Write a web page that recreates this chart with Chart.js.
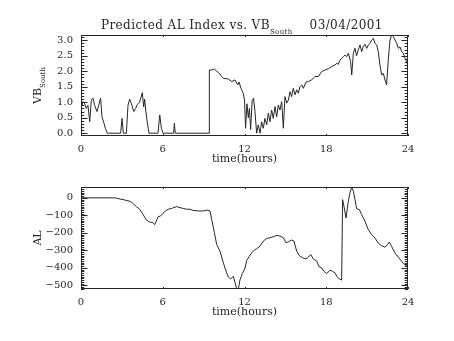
<!DOCTYPE html>
<html lang="en">

<head>
  <meta charset="UTF-8">
  <title>Predicted AL Index vs. VB South</title>
  <script src="https://cdn.jsdelivr.net/npm/chart.js@4.4.1/dist/chart.umd.min.js"></script>
  <style>
    body { margin: 0; background: #fff; }
    #wrap { position: relative; width: 454px; height: 341px; background: #fff; }
    #wrap canvas { position: absolute; left: 0; }
  </style>
</head>

<body>
  <div id="wrap">
    <canvas id="vbChart" width="454" height="170" style="top:0"></canvas>
    <canvas id="alChart" width="454" height="171" style="top:170px"></canvas>
  </div>

<script type="text/javascript">

  // VB south, 03/04/2001 (hours, value)
  var vbHours = [0.02, 0.15, 0.27, 0.39, 0.51, 0.64, 0.76, 0.88, 1.00, 1.17, 1.30, 1.44, 1.54, 1.69, 1.79, 1.93,
    2.10, 2.91, 3.01, 3.11, 3.33, 3.45, 3.57, 3.69, 3.87, 4.01, 4.14, 4.30, 4.50, 4.60, 4.67, 4.75, 4.84, 4.99,
    5.65, 5.78, 5.90, 6.02, 6.80, 6.85, 6.92, 9.40, 9.42, 9.59, 9.79, 9.96, 10.08, 10.45, 10.81, 11.06, 11.30,
    11.50, 11.60, 11.74, 11.91, 12.00, 12.08, 12.18, 12.28, 12.36, 12.45, 12.56, 12.66, 12.77, 12.89, 13.01,
    13.14, 13.26, 13.38, 13.50, 13.63, 13.75, 13.87, 13.99, 14.11, 14.24, 14.36, 14.48, 14.60, 14.73, 14.85,
    14.97, 15.10, 15.22, 15.34, 15.46, 15.58, 15.71, 15.83, 15.95, 16.07, 16.20, 16.32, 16.51, 16.68, 16.93,
    17.17, 17.42, 17.66, 17.91, 18.15, 18.40, 18.64, 18.77, 18.88, 19.01, 19.13, 19.25, 19.37, 19.50, 19.62,
    19.79, 19.87, 19.99, 20.11, 20.23, 20.35, 20.48, 20.60, 20.72, 20.84, 20.97, 21.09, 21.21, 21.33, 21.46,
    21.58, 21.70, 21.82, 21.94, 22.07, 22.19, 22.31, 22.43, 22.56, 22.68, 22.80, 22.92, 23.05, 23.17, 23.29,
    23.41, 23.54, 23.66, 23.78, 23.90, 24.00];
  var vbSouth = [0.81, 1.02, 0.95, 0.80, 0.90, 0.37, 1.07, 1.13, 0.90, 0.70, 0.90, 1.13, 0.53, 0.32, 0.16, 0.00,
    0.00, 0.00, 0.48, 0.00, 0.00, 0.90, 1.10, 0.97, 0.70, 0.80, 0.93, 1.00, 1.31, 0.85, 1.10, 0.75, 0.43, 0.00,
    0.00, 0.59, 0.16, 0.00, 0.00, 0.32, 0.00, 0.00, 2.04, 2.04, 2.07, 2.00, 1.96, 1.77, 1.75, 1.67, 1.72,
    1.56, 1.65, 1.45, 1.29, 1.07, 0.16, 0.95, 0.50, 0.80, 0.12, 1.05, 1.13, 0.70, 0.00, 0.27,
    0.00, 0.37, 0.16, 0.48, 0.27, 0.65, 0.37, 0.75, 0.48, 0.86, 0.53, 0.91, 0.75, 1.02, 0.16,
    1.18, 0.97, 1.07, 1.34, 1.18, 1.45, 1.24, 1.40, 1.29, 1.50, 1.56, 1.45, 1.65, 1.67, 1.72,
    1.83, 1.83, 1.99, 2.04, 2.08, 2.15, 2.20, 2.26, 2.22, 2.36, 2.42, 2.47, 2.52, 2.47, 2.58,
    2.31, 1.88, 2.58, 2.74, 2.50, 2.69, 2.85, 2.63, 2.80, 2.87, 2.74, 2.85, 2.90, 3.01, 3.06,
    2.90, 2.85, 2.63, 2.20, 1.88, 1.93, 1.72, 1.56, 2.42, 3.01, 3.17, 3.12, 3.01, 2.90, 2.74,
    2.79, 2.63, 2.58, 2.42, 2.31, 2.15];

  // predicted AL index (hours, nT)
  var alHours = [0.00, 2.52, 2.72, 3.20, 3.64, 3.82, 4.06, 4.30, 4.55, 4.79, 5.04, 5.28, 5.41, 5.53, 5.65, 5.85,
    6.02, 6.19, 6.41, 6.66, 7.02, 7.27, 7.51, 7.76, 8.00, 8.20, 8.61, 8.98, 9.22, 9.47, 9.59, 9.79, 9.96,
    10.20, 10.45, 10.69, 10.81, 10.98, 11.18, 11.30, 11.43, 11.55, 11.67, 11.84, 12.04, 12.16, 12.33, 12.53,
    12.72, 12.89, 13.14, 13.38, 13.63, 13.87, 14.11, 14.36, 14.60, 14.85, 15.05, 15.22, 15.46, 15.63, 15.83,
    16.02, 16.27, 16.51, 16.68, 16.86, 17.05, 17.30, 17.49, 17.66, 17.83, 18.03, 18.28, 18.47, 18.64, 18.77,
    18.89, 19.13, 19.20, 19.30, 19.45, 19.62, 19.74, 19.87, 19.99, 20.11, 20.23, 20.43, 20.60, 20.84, 21.09,
    21.33, 21.58, 21.82, 22.07, 22.31, 22.48, 22.63, 22.80, 23.05, 23.29, 23.54, 23.78, 24.00];
  var alIndex = [0, 0, -4, -12, -21, -33, -50, -65, -94, -126, -138, -142, -153, -132, -109, -103,
    -88, -75, -65, -60, -50, -56, -61, -65, -65, -71, -75, -75, -70, -75, -123, -199, -267,
    -305, -372, -429, -452, -464, -448, -483, -521, -521, -468, -433, -401, -357, -337, -314,
    -299, -291, -276, -247, -232, -228, -222, -215, -218, -228, -257, -251, -241, -247, -305,
    -330, -343, -349, -340, -324, -349, -362, -395, -400, -420, -433, -414, -420, -429, -448,
    -460, -470, -10, -48, -115, -20, 29, 62, 38, -10, -63, -67, -96, -134, -182,
    -211, -230, -259, -274, -282, -268, -253, -278, -316, -339, -364, -383, -393];

  var hourTicks = [0, 6, 12, 18, 24];
  var vbTicks = [0, 0.5, 1, 1.5, 2, 2.5, 3];
  var alTicks = [0, -100, -200, -300, -400, -500];

  var ink = '#262626';
  var serif = "'DejaVu Serif', 'Liberation Serif', serif";

  function pts(xs, ys) {
    return xs.map(function (x, i) { return { x: x, y: ys[i] }; });
  }

  // draws a run of [text, fontSize, yShift] pieces left to right
  function drawRuns(ctx, runs, x, y) {
    runs.forEach(function (r) {
      ctx.font = r[1] + 'px ' + serif;
      ctx.fillText(r[0], x, y + r[2]);
      x += ctx.measureText(r[0]).width;
    });
  }
  function runsWidth(ctx, runs) {
    var w = 0;
    runs.forEach(function (r) {
      ctx.font = r[1] + 'px ' + serif;
      w += ctx.measureText(r[0]).width;
    });
    return w;
  }

  // box round the plot, inward ticks on all four sides, axis titles
  var idlFrame = {
    id: 'idlFrame',
    afterDraw: function (chart, args, o) {
      var ctx = chart.ctx, a = chart.chartArea;
      var xs = chart.scales.x, ys = chart.scales.y;
      var w = a.right - a.left, h = a.bottom - a.top;
      ctx.save();
      ctx.strokeStyle = ink;
      ctx.lineWidth = 1;
      ctx.strokeRect(Math.round(a.left) + 0.5, Math.round(a.top) + 0.5, Math.round(w) - 1, Math.round(h) - 1);

      ctx.beginPath();
      var xl = 0.02 * h;
      for (var t = 0; t <= 24; t += 1) {
        var px = Math.round(xs.getPixelForValue(t)) + 0.5;
        var len = (t % 6 === 0) ? xl : xl / 2;
        ctx.moveTo(px, a.bottom); ctx.lineTo(px, a.bottom - len);
        ctx.moveTo(px, a.top); ctx.lineTo(px, a.top + len);
      }
      var yl = 0.02 * w;
      var n = Math.round((o.yTop - o.yBottom) / o.minor);
      for (var i = 0; i <= n; i++) {
        var v = o.yBottom + i * o.minor;
        var major = Math.abs(v / o.major - Math.round(v / o.major)) < 1e-6;
        var py = Math.round(ys.getPixelForValue(v)) + 0.5;
        var l2 = major ? yl : yl / 2;
        ctx.moveTo(a.left, py); ctx.lineTo(a.left + l2, py);
        ctx.moveTo(a.right, py); ctx.lineTo(a.right - l2, py);
      }
      ctx.stroke();

      ctx.fillStyle = ink;
      ctx.textBaseline = 'alphabetic';
      // x title
      var xt = [['time(hours)', 11, 0]];
      drawRuns(ctx, xt, (a.left + a.right) / 2 - runsWidth(ctx, xt) / 2, a.bottom + 26);
      // y title, rotated
      ctx.translate(o.yTitleX, (a.top + a.bottom) / 2);
      ctx.rotate(-Math.PI / 2);
      drawRuns(ctx, o.yTitle, -runsWidth(ctx, o.yTitle) / 2, 0);
      ctx.setTransform(1, 0, 0, 1, 0, 0);
      // chart title, a little spaced out
      if (o.title) {
        ctx.letterSpacing = '0.4px';
        drawRuns(ctx, o.title, o.titleX, o.titleY);
        ctx.letterSpacing = '0px';
      }
      ctx.restore();
    }
  };

  function makeChart(id, data, yMin, yMax, yTicks, fmt, top, xAxisH, frameOpts) {
    return new Chart(document.getElementById(id), {
      type: 'line',
      data: {
        datasets: [{
          data: data,
          borderColor: ink,
          borderWidth: 1,
          pointRadius: 0,
          tension: 0,
          fill: false
        }]
      },
      options: {
        responsive: false,
        animation: false,
        devicePixelRatio: 1,
        layout: { padding: { top: top, right: 46, left: 0, bottom: 0 } },
        plugins: { legend: { display: false }, tooltip: { enabled: false }, idlFrame: frameOpts },
        scales: {
          x: {
            type: 'linear', min: 0, max: 24,
            afterFit: function (s) { s.height = xAxisH; },
            afterBuildTicks: function (s) { s.ticks = hourTicks.map(function (v) { return { value: v }; }); },
            grid: { display: false, drawTicks: false },
            border: { display: false },
            ticks: { padding: 7, color: ink, font: { family: serif, size: 10 }, maxRotation: 0, autoSkip: false,
              callback: function (v) { return String(v); } }
          },
          y: {
            type: 'linear', min: yMin, max: yMax,
            afterFit: function (s) { s.width = 81; },
            afterBuildTicks: function (s) { s.ticks = yTicks.map(function (v) { return { value: v }; }); },
            grid: { display: false, drawTicks: false },
            border: { display: false },
            ticks: { padding: 8, color: ink, font: { family: serif, size: 10 }, autoSkip: false, callback: fmt }
          }
        }
      },
      plugins: [idlFrame]
    });
  }

  var vbChart = makeChart('vbChart', pts(vbHours, vbSouth), -0.09, 3.17, vbTicks,
    function (v) { return v.toFixed(1); }, 35, 34, {
      yTop: 3.1, yBottom: 0, minor: 0.1, major: 0.5,
      yTitleX: 41,
      yTitle: [['VB', 11, 0], ['South', 7, 4]],
      title: [['Predicted AL Index vs. VB', 12, 0], ['South', 7, 5], ['    03/04/2001', 12, 0]],
      titleX: 101, titleY: 29
    });

  var alChart = makeChart('alChart', pts(alHours, alIndex), -521, 62, alTicks,
    function (v) { return v < 0 ? '\u2212' + Math.abs(v) : String(v); }, 17, 52, {
      yTop: 60, yBottom: -520, minor: 10, major: 100,
      yTitleX: 41,
      yTitle: [['AL', 11, 0]]
    });

</script>
</body>

</html>
